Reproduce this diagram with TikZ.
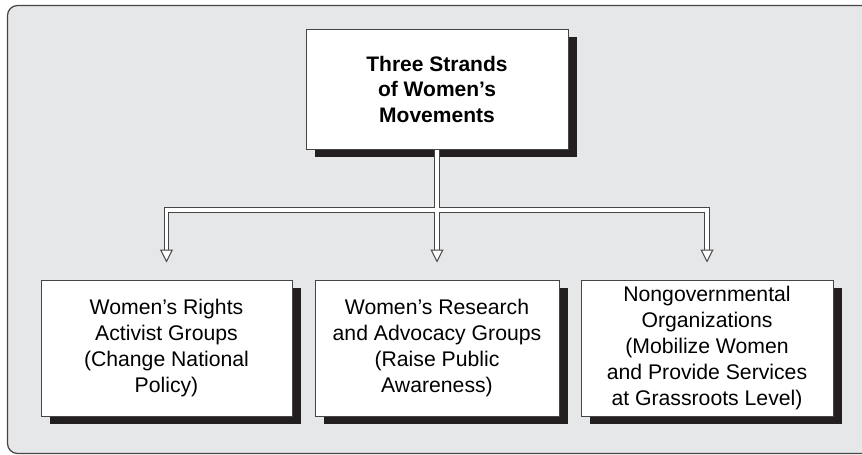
\documentclass[tikz,border=0pt]{standalone}
\usepackage{fontspec}
\setmainfont{Liberation Sans}
\usetikzlibrary{arrows.meta,calc,shadows}
\definecolor{panelgray}{HTML}{E6E7E8}
\definecolor{shadowc}{HTML}{231F20}
\definecolor{edgec}{HTML}{454545}

\begin{document}
\begin{tikzpicture}[x=1pt, y=-1pt, line join=miter,
  box/.style={draw=edgec, line width=1pt, fill=white, inner sep=0pt, align=center,
    drop shadow={shadow xshift=8.5pt, shadow yshift=-8pt, fill=shadowc, opacity=1}},
  boxtext/.style={font=\fontsize{21.2}{26}\selectfont},
  dblline/.style={draw=edgec, line width=1pt, double=white, double distance=3.2pt},
  head/.style={draw=edgec, line width=1pt, -{Triangle[width=13pt,length=13pt,fill=white]}}]

  %% ════ 背景面板 ════
  \draw[draw=edgec, line width=1.2pt, fill=panelgray, rounded corners=10pt] (7.5,5.5) rectangle (890,453.5);

  %% ════ 方框 ════
  \node[box, minimum width=262pt, minimum height=120pt, font=\fontsize{21}{25.5}\selectfont\bfseries]
    (strands) at (437,89) {Three Strands\\of Women’s\\Movements};
  \node[box, boxtext, minimum width=251pt, minimum height=136pt]
    (rights) at (166.5,348) {Women’s Rights\\Activist Groups\\(Change National\\Policy)};
  \node[box, boxtext, minimum width=244pt, minimum height=136pt]
    (research) at (437,348) {Women’s Research\\and Advocacy Groups\\(Raise Public\\Awareness)};
  \node[box, boxtext, minimum width=252pt, minimum height=136pt]
    (ngo) at (707,348) {Nongovernmental\\Organizations\\(Mobilize Women\\and Provide Services\\at Grassroots Level)};

  %% ════ 连线（双线 + 空心箭头）════
  \coordinate (j) at (437,210);
  \coordinate (e1) at ($(rights.north)+(0,-30)$);
  \coordinate (e2) at ($(research.north)+(0,-30)$);
  \coordinate (e3) at ($(ngo.north)+(0,-30)$);
  \coordinate (t1) at ($(rights.north)+(0,-17)$);
  \coordinate (t2) at ($(research.north)+(0,-17)$);
  \coordinate (t3) at ($(ngo.north)+(0,-17)$);

  \draw[dblline] (strands.south) -- (e2) (e1) |- (j) -| (e3);
  \draw[head] (e1) -- (t1);
  \draw[head] (e2) -- (t2);
  \draw[head] (e3) -- (t3);

  % 钉死画布
  \pgfresetboundingbox
  \path[use as bounding box] (0,0) rectangle (862,455);
\end{tikzpicture}
\end{document}
